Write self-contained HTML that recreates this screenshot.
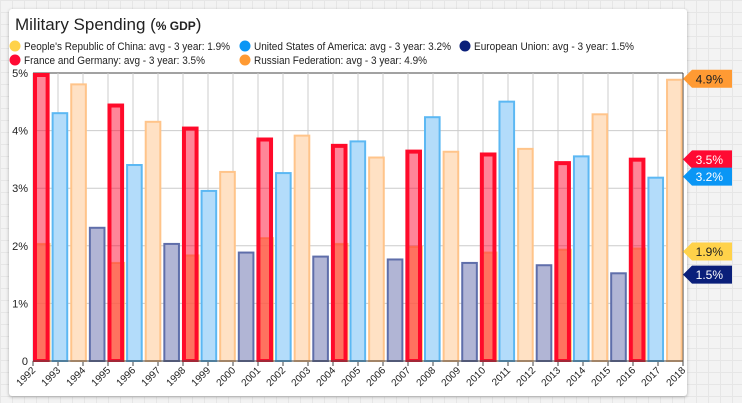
<!DOCTYPE html>
<html><head><meta charset="utf-8">
<style>
html,body{margin:0;padding:0;width:742px;height:403px;overflow:hidden;font-family:"Liberation Sans",sans-serif;
background-color:#f3f3f3;background-image:linear-gradient(#e6e6e6 1px,transparent 1px),linear-gradient(90deg,#e6e6e6 1px,transparent 1px);background-size:12px 12px;}
#card{position:absolute;left:9px;top:9px;width:678px;height:387px;background:#fff;border-radius:3px;box-shadow:0 1px 3px rgba(0,0,0,0.3);}
svg{position:absolute;left:0;top:0;}
</style></head><body>
<div id="card"></div>
<svg id="chart" width="742" height="403">
<text x="15" y="30" font-size="17" fill="#222">Military Spending (<tspan font-size="12" font-weight="bold">% GDP</tspan>)</text>
</svg>
<script>
const groups=[1992,1995,1998,2001,2004,2007,2010,2013,2016];
const years=[1992,1993,1994,1995,1996,1997,1998,1999,2000,2001,2002,2003,2004,2005,2006,2007,2008,2009,2010,2011,2012,2013,2014,2015,2016,2017,2018];
const china=[2.05,1.72,1.85,2.15,2.05,2.0,1.9,1.95,1.97];
const franceGermany=[5.0,4.47,4.07,3.88,3.77,3.67,3.62,3.47,3.53];
const usa=[4.32,3.42,2.97,3.28,3.83,4.25,4.52,3.57,3.2];
const russia=[4.82,4.17,3.3,3.93,3.55,3.65,3.7,4.3,4.9];
const eu=[2.33,2.05,1.9,1.83,1.78,1.72,1.68,1.54,1.5];
const yTicks=[0,1,2,3,4,5];
const tags=[{v:4.9,t:'4.9%',bg:'#ff9a33',fg:'#222'},{v:3.5,t:'3.5%',bg:'#ff0a33',fg:'#fff'},{v:3.2,t:'3.2%',bg:'#0a96f5',fg:'#fff'},{v:1.9,t:'1.9%',bg:'#ffd24a',fg:'#222'},{v:1.5,t:'1.5%',bg:'#0a1f7a',fg:'#fff'}];
const legend=[
 {c:'#ffd24a',t:"People's Republic of China: avg - 3 year: 1.9%",x:15,y:46,w:206},
 {c:'#0a96f5',t:"United States of America: avg - 3 year: 3.2%",x:245,y:46,w:197},
 {c:'#0a1f7a',t:"European Union: avg - 3 year: 1.5%",x:465,y:46,w:160},
 {c:'#ff0a33',t:"France and Germany: avg - 3 year: 3.5%",x:15,y:60,w:181},
 {c:'#ff9a33',t:"Russian Federation: avg - 3 year: 4.9%",x:245,y:60,w:173}];
const NS='http://www.w3.org/2000/svg';
const svg=document.getElementById('chart');
const L=33,R=683,T=73,B=361;
const x=yr=>L+(yr-1992)*(R-L)/26;
const y=v=>B-v*(B-T)/5;
function el(tag,a,parent){const e=document.createElementNS(NS,tag);for(const k in a)e.setAttribute(k,a[k]);(parent||svg).appendChild(e);return e;}
legend.forEach(l=>{
 const g=el('g',{});
 
 
 el('circle',{cx:l.x,cy:l.y,r:5.5,fill:l.c},g);
 const t=el('text',{x:l.x+9,y:l.y+4,'font-size':11,fill:'#222',textLength:l.w,lengthAdjust:'spacingAndGlyphs'},g);t.textContent=l.t;
});
yTicks.forEach(v=>{
 const ln=el('line',{x1:L,x2:R,y1:y(v),y2:y(v),stroke:v==5?'#444':'#ccc','stroke-width':1});
 
 
 const t=el('text',{x:28,y:y(v)+4,'font-size':11,fill:'#222','text-anchor':'end'});
 
 
 t.textContent=v==0?'0':v+'%';
});
years.forEach(yr=>{
 const ln=el('line',{x1:x(yr),x2:x(yr),y1:T,y2:B,stroke:'#ccc'});
 
 
 el('line',{x1:x(yr),x2:x(yr),y1:B,y2:B+5,stroke:'#444'});
 const t=el('text',{x:0,y:0,'font-size':10,fill:'#222','text-anchor':'end',transform:`translate(${x(yr)+3},${B+10}) rotate(-45)`});
 
 
 t.textContent=yr;
});
el('line',{x1:R,x2:R,y1:T,y2:B,stroke:'#444'});
el('defs',{}).innerHTML='<clipPath id="pc"><rect x="33" y="60" width="650" height="302"/></clipPath>';
const bars=el('g',{'clip-path':'url(#pc)'});
const colW=(x(1995)-x(1992))/4*0.993;
function bar(xs,v,fill,stroke,sw,name){
 const b=el('rect',{x:xs+sw/2,y:y(v)+sw/2,width:colW-2-sw,height:B-y(v)-sw/2,fill:fill,stroke:stroke,'stroke-width':sw},bars);
 
 
}
groups.forEach((g,i)=>{
 const x0=L+i*colW*4;
 bar(x0+1,china[i],'rgba(255,205,110,0.75)','rgba(255,190,90,0.75)',2,'bar-china');
 bar(x0,franceGermany[i],'rgba(255,0,40,0.48)','#ff0a2a',4,'bar-france-germany');
 bar(x0+colW,usa[i],'#b3dcfa','#5cb8f3',2,'bar-usa');
 bar(x0+colW*2,russia[i],'#ffe1c4','#ffc48a',2,'bar-russia');
 bar(x0+colW*3,eu[i],'#b1b5d5','#5f6eaa',2,'bar-eu');
});
el('line',{x1:L,x2:R,y1:B,y2:B,stroke:'#444'});
tags.forEach(tg=>{
 const g=el('g',{});
 
 
 const yy=y(tg.v);
 el('path',{d:`M683 ${yy} L692 ${yy-9} L732 ${yy-9} L732 ${yy+9} L692 ${yy+9} Z`,fill:tg.bg},g);
 const t=el('text',{x:723,y:yy+4.5,'font-size':12,fill:tg.fg,'text-anchor':'end'},g);t.textContent=tg.t;
});
</script>
</body></html>
